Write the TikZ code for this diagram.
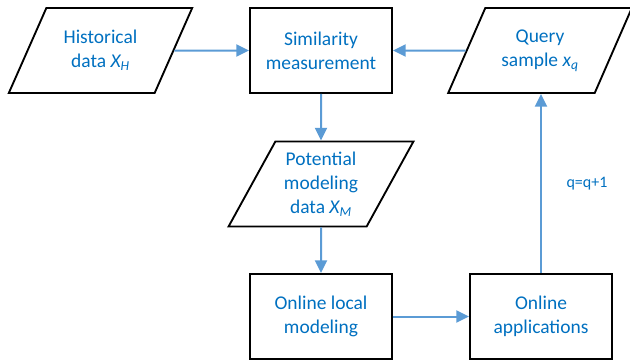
\documentclass[tikz,border=0pt]{standalone}
\usepackage{fontspec}
\setmainfont{Carlito}
\usetikzlibrary{shapes.geometric,arrows.meta}
\definecolor{txtblue}{RGB}{0,112,192}
\definecolor{arrblue}{RGB}{91,155,213}
\begin{document}
\begin{tikzpicture}[x=0.75pt,y=-0.75pt,
  box/.style={draw, line width=1.4pt, minimum width=106.5pt, minimum height=63.75pt,
    text=txtblue, align=center, font=\fontsize{14.6}{18}\selectfont},
  data/.style={box, trapezium, trapezium left angle=62.6, trapezium right angle=117.4,
    trapezium stretches=true, minimum width=138.75pt, inner xsep=0pt},
  flow/.style={draw=arrblue, line width=1.5pt, -{Triangle[length=9.5pt,width=9pt]}}]
\useasboundingbox (0,0) rectangle (630,361);
\node[data] (1) at (100.5,50.5) {Historical\\data \textit{X\textsubscript{H}}};
\node[box] (2) at (321,50.5) {Similarity\\measurement};
\node[data] (3) at (540,50.5) {Query\\sample \textit{x\textsubscript{q}}};
\node[data] (4) at (321,184) {Potential\\modeling\\data \textit{X\textsubscript{M}}};
\node[box] (5) at (321,316.5) {Online local\\modeling};
\node[box] (6) at (541,316.5) {Online\\applications};
\node[text=txtblue, font=\fontsize{12}{14}\selectfont] (7) at (587,184) {q=q+1};

\path[flow] (1) -- (2);
\path[flow] (3) -- (2);
\path[flow] (2) -- (4);
\path[flow] (4) -- (5);
\path[flow] (5) -- (6);
\path[flow] (6.north) -- (6.north |- 3.south);
\end{tikzpicture}
\end{document}
